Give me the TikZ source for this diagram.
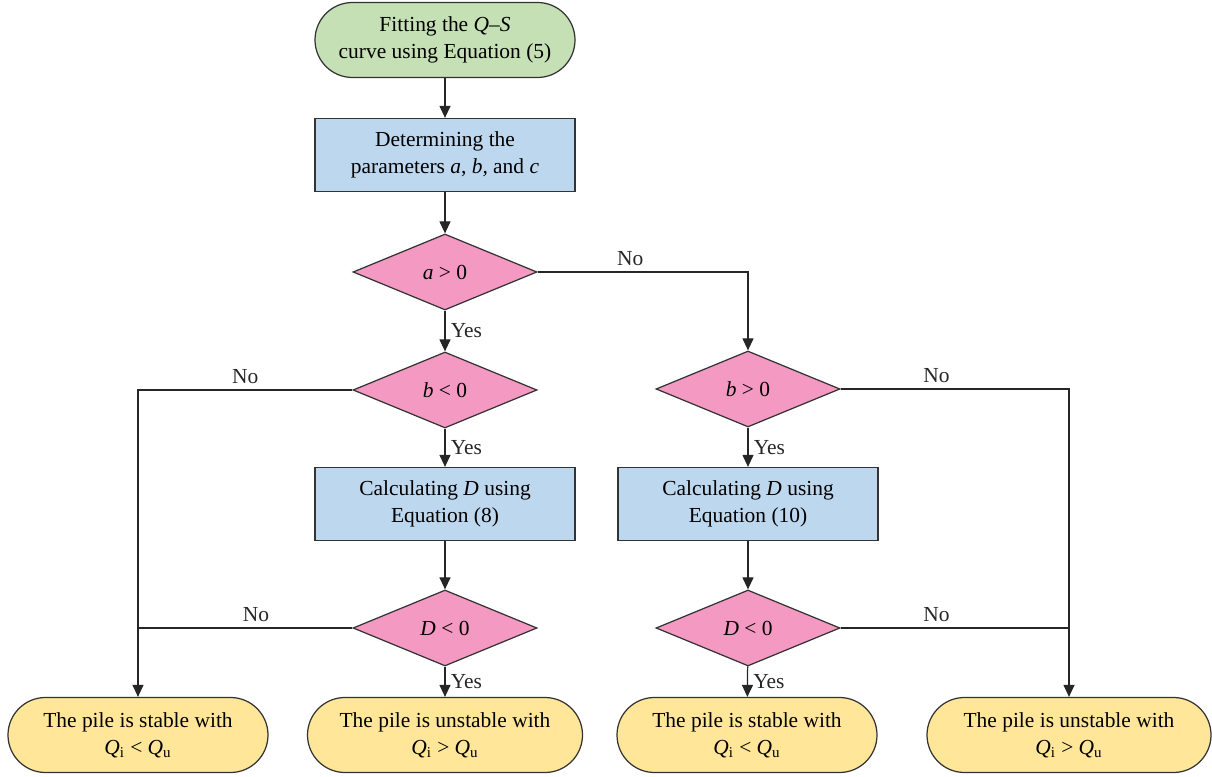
\documentclass[tikz,border=0pt]{standalone}
\usepackage{fontspec}
\setmainfont{Liberation Serif}
\usetikzlibrary{arrows.meta,positioning,shapes.geometric}

\begin{document}
\begin{tikzpicture}[font=\fontsize{12.2}{15.4}\selectfont,
  base/.style={draw=black!80, line width=0.7pt, align=center, inner sep=2pt},
  term/.style={base, rounded corners=0.75cm, minimum width=5.2cm, minimum height=1.5cm},
  proc/.style={base, minimum width=5.2cm, minimum height=1.46cm},
  test/.style={base, diamond, inner sep=0pt, minimum width=3.68cm, minimum height=1.52cm},
  arr/.style={-{Triangle[length=2.4mm,width=2.2mm]}, line width=0.7pt, black!85},
  lin/.style={line width=0.7pt, black!85},
  lbl/.style={font=\fontsize{12.2}{14}\selectfont, inner sep=3pt},
]
\definecolor{fStart}{HTML}{C5E0B4}
\definecolor{fProc}{HTML}{BDD7EE}
\definecolor{fTest}{HTML}{F49AC2}
\definecolor{fEnd}{HTML}{FFE699}
\useasboundingbox (0,0) rectangle (24.24,-15.54);
% ---- middle column ----
\node[term, fill=fStart] (fit) at (8.9,-0.8) {Fitting the \textit{Q}–\textit{S}\\curve using Equation (5)};
\node[proc, fill=fProc] (det) at (8.9,-3.1) {Determining the\\parameters \textit{a}, \textit{b,} and \textit{c}};
\node[test, fill=fTest] (qa) at (8.9,-5.44) {\textit{a} > 0};
\node[test, fill=fTest] (qbl) at (8.9,-7.8) {\textit{b} < 0};
\node[proc, fill=fProc] (calcl) at (8.9,-10.08) {Calculating \textit{D} using\\Equation (8)};
\node[test, fill=fTest] (qdl) at (8.9,-12.56) {\textit{D} < 0};
% ---- right column ----
\node[test, fill=fTest] (qbr) at (14.96,-7.78) {\textit{b} > 0};
\node[proc, fill=fProc] (calcr) at (14.96,-10.08) {Calculating \textit{D} using\\Equation (10)};
\node[test, fill=fTest] (qdr) at (14.96,-12.56) {\textit{D} < 0};
% ---- outcomes ----
\node[term, fill=fEnd] (st1) at (2.76,-14.7) {The pile is stable with\\\textit{Q}\textsubscript{i} < \textit{Q}\textsubscript{u}};
\node[term, fill=fEnd, minimum width=5.5cm] (un1) at (8.9,-14.7) {The pile is unstable with\\\textit{Q}\textsubscript{i} > \textit{Q}\textsubscript{u}};
\node[term, fill=fEnd] (st2) at (14.94,-14.7) {The pile is stable with\\\textit{Q}\textsubscript{i} < \textit{Q}\textsubscript{u}};
\node[term, fill=fEnd, minimum width=5.68cm] (un2) at (21.38,-14.7) {The pile is unstable with\\\textit{Q}\textsubscript{i} > \textit{Q}\textsubscript{u}};
% ---- connectors ----
\draw[arr] (fit) -- (det);
\draw[arr] (det) -- (qa);
\draw[arr] (qa) -- node[right, lbl] {Yes} (qbl);
\draw[arr] (qbl) -- node[right, lbl] {Yes} (calcl);
\draw[arr] (calcl) -- (qdl);
\draw[arr] (qdl) -- node[right, lbl] {Yes} (un1);
\draw[arr] (qa.east) -| node[above, lbl, pos=0.22] {No} (qbr.north);
\draw[arr] (qbr) -- node[right, lbl] {Yes} (calcr);
\draw[arr] (calcr) -- (qdr);
\draw[arr] (qdr) -- node[right, lbl] {Yes} (st2);
\draw[arr] (qbl.west) -| node[above, lbl, pos=0.25] {No} (st1.north);
\draw[lin] (qdl.west) -- node[above, lbl, pos=0.45] {No} (qdl.west -| st1.north);
\draw[arr] (qbr.east) -| node[above, lbl, pos=0.21] {No} (un2.north);
\draw[lin] (qdr.east) -- node[above, lbl, pos=0.42] {No} (qdr.east -| un2.north);
\end{tikzpicture}
\end{document}
